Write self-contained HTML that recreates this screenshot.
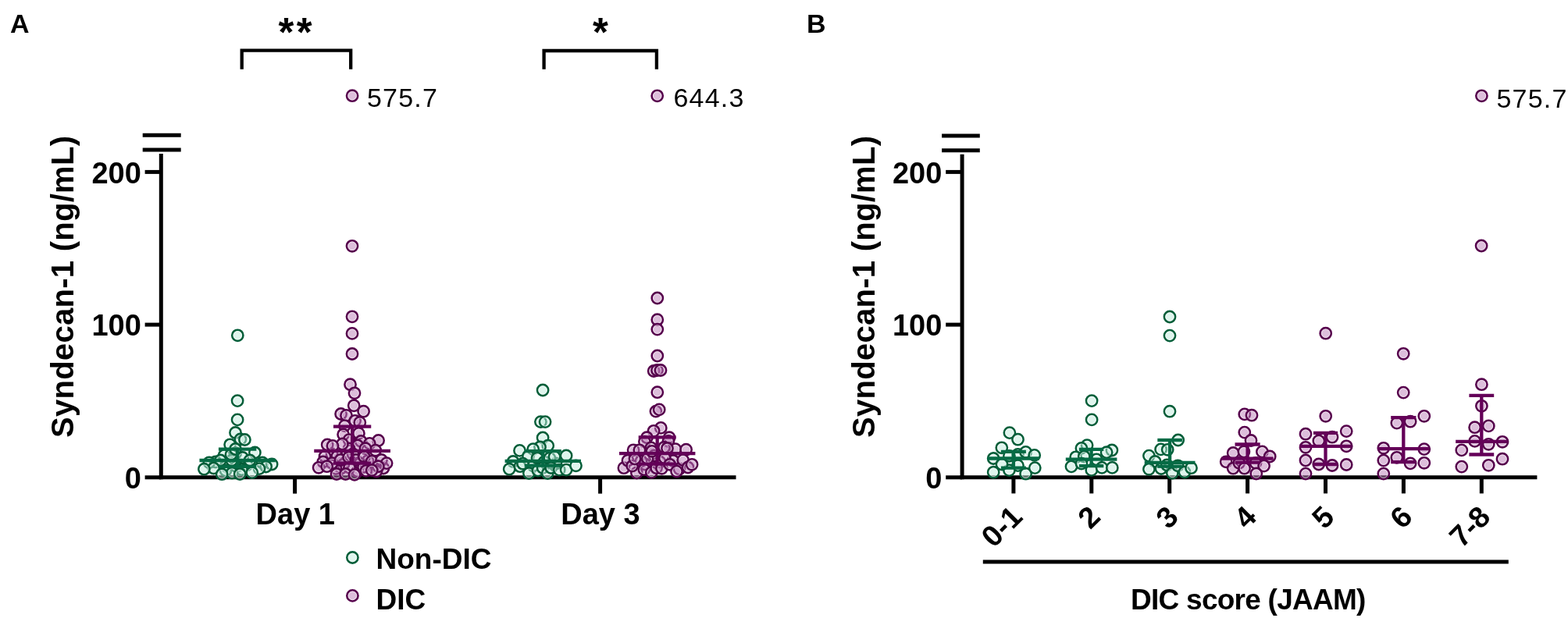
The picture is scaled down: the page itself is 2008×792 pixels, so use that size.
<!DOCTYPE html>
<html><head><meta charset="utf-8"><title>Syndecan-1</title>
<style>html,body{margin:0;padding:0;background:#fff;}svg{display:block;}</style></head>
<body><svg width="2008" height="792" viewBox="0 0 2008 792">
<rect width="2008" height="792" fill="#fff"/>
<g>
<line x1="206.3" y1="197" x2="206.3" y2="614.3" stroke="#000" stroke-width="5"/>
<line x1="182.7" y1="173.3" x2="231.7" y2="173.3" stroke="#000" stroke-width="5"/>
<line x1="182.7" y1="192.0" x2="231.7" y2="192.0" stroke="#000" stroke-width="5"/>
<line x1="203.8" y1="611.8" x2="942.5" y2="611.8" stroke="#000" stroke-width="5"/>
<line x1="185.6" y1="611.8" x2="206.3" y2="611.8" stroke="#000" stroke-width="5"/>
<line x1="185.6" y1="416.0999999999999" x2="206.3" y2="416.0999999999999" stroke="#000" stroke-width="5"/>
<line x1="185.6" y1="220.39999999999992" x2="206.3" y2="220.39999999999992" stroke="#000" stroke-width="5"/>
<line x1="377.6" y1="611.8" x2="377.6" y2="632.6" stroke="#000" stroke-width="5"/>
<line x1="768.6" y1="611.8" x2="768.6" y2="632.6" stroke="#000" stroke-width="5"/>
<line x1="1232.1" y1="197.7" x2="1232.1" y2="614.3" stroke="#000" stroke-width="5"/>
<line x1="1206.1" y1="174.0" x2="1254.8" y2="174.0" stroke="#000" stroke-width="5"/>
<line x1="1206.1" y1="192.7" x2="1254.8" y2="192.7" stroke="#000" stroke-width="5"/>
<line x1="1229.6" y1="611.8" x2="1968.4" y2="611.8" stroke="#000" stroke-width="5"/>
<line x1="1211.2" y1="611.8" x2="1232.1" y2="611.8" stroke="#000" stroke-width="5"/>
<line x1="1211.2" y1="416.0999999999999" x2="1232.1" y2="416.0999999999999" stroke="#000" stroke-width="5"/>
<line x1="1211.2" y1="220.39999999999992" x2="1232.1" y2="220.39999999999992" stroke="#000" stroke-width="5"/>
<line x1="1297.9" y1="611.8" x2="1297.9" y2="632.4" stroke="#000" stroke-width="5"/>
<line x1="1397.8000000000002" y1="611.8" x2="1397.8000000000002" y2="632.4" stroke="#000" stroke-width="5"/>
<line x1="1497.7" y1="611.8" x2="1497.7" y2="632.4" stroke="#000" stroke-width="5"/>
<line x1="1597.6000000000001" y1="611.8" x2="1597.6000000000001" y2="632.4" stroke="#000" stroke-width="5"/>
<line x1="1697.5" y1="611.8" x2="1697.5" y2="632.4" stroke="#000" stroke-width="5"/>
<line x1="1797.4" y1="611.8" x2="1797.4" y2="632.4" stroke="#000" stroke-width="5"/>
<line x1="1897.3000000000002" y1="611.8" x2="1897.3000000000002" y2="632.4" stroke="#000" stroke-width="5"/>
<line x1="1258.8" y1="720.1" x2="1931.8" y2="720.1" stroke="#000" stroke-width="5"/>
<polyline points="309.7,88.8 309.7,64.7 449.2,64.7 449.2,88.8" fill="none" stroke="#000" stroke-width="4.3"/>
<polyline points="696.6,88.8 696.6,65 840.9,65 840.9,88.8" fill="none" stroke="#000" stroke-width="4.3"/>
<circle cx="304.3" cy="429.8" r="7.1" fill="#c0ecdc" fill-opacity="0.5" stroke="#045e39" stroke-width="2.6"/><circle cx="304.3" cy="429.8" r="5.30" fill="none" stroke="#fff" stroke-opacity="0.6" stroke-width="1.0"/>
<circle cx="304.1" cy="513.6" r="7.1" fill="#c0ecdc" fill-opacity="0.5" stroke="#045e39" stroke-width="2.6"/><circle cx="304.1" cy="513.6" r="5.30" fill="none" stroke="#fff" stroke-opacity="0.6" stroke-width="1.0"/>
<circle cx="304.1" cy="537.9" r="7.1" fill="#c0ecdc" fill-opacity="0.5" stroke="#045e39" stroke-width="2.6"/><circle cx="304.1" cy="537.9" r="5.30" fill="none" stroke="#fff" stroke-opacity="0.6" stroke-width="1.0"/>
<circle cx="301.5" cy="554.5" r="7.1" fill="#c0ecdc" fill-opacity="0.5" stroke="#045e39" stroke-width="2.6"/><circle cx="301.5" cy="554.5" r="5.30" fill="none" stroke="#fff" stroke-opacity="0.6" stroke-width="1.0"/>
<circle cx="307.9" cy="563.0" r="7.1" fill="#c0ecdc" fill-opacity="0.5" stroke="#045e39" stroke-width="2.6"/><circle cx="307.9" cy="563.0" r="5.30" fill="none" stroke="#fff" stroke-opacity="0.6" stroke-width="1.0"/>
<circle cx="313.4" cy="563.5" r="7.1" fill="#c0ecdc" fill-opacity="0.5" stroke="#045e39" stroke-width="2.6"/><circle cx="313.4" cy="563.5" r="5.30" fill="none" stroke="#fff" stroke-opacity="0.6" stroke-width="1.0"/>
<circle cx="294.6" cy="569.8" r="7.1" fill="#c0ecdc" fill-opacity="0.5" stroke="#045e39" stroke-width="2.6"/><circle cx="294.6" cy="569.8" r="5.30" fill="none" stroke="#fff" stroke-opacity="0.6" stroke-width="1.0"/>
<circle cx="301.8" cy="580.7" r="7.1" fill="#c0ecdc" fill-opacity="0.5" stroke="#045e39" stroke-width="2.6"/><circle cx="301.8" cy="580.7" r="5.30" fill="none" stroke="#fff" stroke-opacity="0.6" stroke-width="1.0"/>
<circle cx="290.0" cy="597.5" r="7.1" fill="#c0ecdc" fill-opacity="0.5" stroke="#045e39" stroke-width="2.6"/><circle cx="290.0" cy="597.5" r="5.30" fill="none" stroke="#fff" stroke-opacity="0.6" stroke-width="1.0"/>
<circle cx="287.1" cy="583.5" r="7.1" fill="#c0ecdc" fill-opacity="0.5" stroke="#045e39" stroke-width="2.6"/><circle cx="287.1" cy="583.5" r="5.30" fill="none" stroke="#fff" stroke-opacity="0.6" stroke-width="1.0"/>
<circle cx="316.0" cy="596.0" r="7.1" fill="#c0ecdc" fill-opacity="0.5" stroke="#045e39" stroke-width="2.6"/><circle cx="316.0" cy="596.0" r="5.30" fill="none" stroke="#fff" stroke-opacity="0.6" stroke-width="1.0"/>
<circle cx="326.4" cy="580.0" r="7.1" fill="#c0ecdc" fill-opacity="0.5" stroke="#045e39" stroke-width="2.6"/><circle cx="326.4" cy="580.0" r="5.30" fill="none" stroke="#fff" stroke-opacity="0.6" stroke-width="1.0"/>
<circle cx="303.0" cy="598.0" r="7.1" fill="#c0ecdc" fill-opacity="0.5" stroke="#045e39" stroke-width="2.6"/><circle cx="303.0" cy="598.0" r="5.30" fill="none" stroke="#fff" stroke-opacity="0.6" stroke-width="1.0"/>
<circle cx="310.7" cy="586.5" r="7.1" fill="#c0ecdc" fill-opacity="0.5" stroke="#045e39" stroke-width="2.6"/><circle cx="310.7" cy="586.5" r="5.30" fill="none" stroke="#fff" stroke-opacity="0.6" stroke-width="1.0"/>
<circle cx="276.0" cy="592.0" r="7.1" fill="#c0ecdc" fill-opacity="0.5" stroke="#045e39" stroke-width="2.6"/><circle cx="276.0" cy="592.0" r="5.30" fill="none" stroke="#fff" stroke-opacity="0.6" stroke-width="1.0"/>
<circle cx="282.3" cy="590.0" r="7.1" fill="#c0ecdc" fill-opacity="0.5" stroke="#045e39" stroke-width="2.6"/><circle cx="282.3" cy="590.0" r="5.30" fill="none" stroke="#fff" stroke-opacity="0.6" stroke-width="1.0"/>
<circle cx="320.0" cy="590.0" r="7.1" fill="#c0ecdc" fill-opacity="0.5" stroke="#045e39" stroke-width="2.6"/><circle cx="320.0" cy="590.0" r="5.30" fill="none" stroke="#fff" stroke-opacity="0.6" stroke-width="1.0"/>
<circle cx="296.8" cy="590.0" r="7.1" fill="#c0ecdc" fill-opacity="0.5" stroke="#045e39" stroke-width="2.6"/><circle cx="296.8" cy="590.0" r="5.30" fill="none" stroke="#fff" stroke-opacity="0.6" stroke-width="1.0"/>
<circle cx="289.0" cy="603.0" r="7.1" fill="#c0ecdc" fill-opacity="0.5" stroke="#045e39" stroke-width="2.6"/><circle cx="289.0" cy="603.0" r="5.30" fill="none" stroke="#fff" stroke-opacity="0.6" stroke-width="1.0"/>
<circle cx="267.9" cy="592.8" r="7.1" fill="#c0ecdc" fill-opacity="0.5" stroke="#045e39" stroke-width="2.6"/><circle cx="267.9" cy="592.8" r="5.30" fill="none" stroke="#fff" stroke-opacity="0.6" stroke-width="1.0"/>
<circle cx="336.0" cy="593.0" r="7.1" fill="#c0ecdc" fill-opacity="0.5" stroke="#045e39" stroke-width="2.6"/><circle cx="336.0" cy="593.0" r="5.30" fill="none" stroke="#fff" stroke-opacity="0.6" stroke-width="1.0"/>
<circle cx="348.1" cy="595.0" r="7.1" fill="#c0ecdc" fill-opacity="0.5" stroke="#045e39" stroke-width="2.6"/><circle cx="348.1" cy="595.0" r="5.30" fill="none" stroke="#fff" stroke-opacity="0.6" stroke-width="1.0"/>
<circle cx="296.0" cy="582.5" r="7.1" fill="#c0ecdc" fill-opacity="0.5" stroke="#045e39" stroke-width="2.6"/><circle cx="296.0" cy="582.5" r="5.30" fill="none" stroke="#fff" stroke-opacity="0.6" stroke-width="1.0"/>
<circle cx="340.6" cy="598.0" r="7.1" fill="#c0ecdc" fill-opacity="0.5" stroke="#045e39" stroke-width="2.6"/><circle cx="340.6" cy="598.0" r="5.30" fill="none" stroke="#fff" stroke-opacity="0.6" stroke-width="1.0"/>
<circle cx="273.6" cy="600.0" r="7.1" fill="#c0ecdc" fill-opacity="0.5" stroke="#045e39" stroke-width="2.6"/><circle cx="273.6" cy="600.0" r="5.30" fill="none" stroke="#fff" stroke-opacity="0.6" stroke-width="1.0"/>
<circle cx="332.0" cy="600.6" r="7.1" fill="#c0ecdc" fill-opacity="0.5" stroke="#045e39" stroke-width="2.6"/><circle cx="332.0" cy="600.6" r="5.30" fill="none" stroke="#fff" stroke-opacity="0.6" stroke-width="1.0"/>
<circle cx="261.4" cy="601.2" r="7.1" fill="#c0ecdc" fill-opacity="0.5" stroke="#045e39" stroke-width="2.6"/><circle cx="261.4" cy="601.2" r="5.30" fill="none" stroke="#fff" stroke-opacity="0.6" stroke-width="1.0"/>
<circle cx="309.5" cy="601.6" r="7.1" fill="#c0ecdc" fill-opacity="0.5" stroke="#045e39" stroke-width="2.6"/><circle cx="309.5" cy="601.6" r="5.30" fill="none" stroke="#fff" stroke-opacity="0.6" stroke-width="1.0"/>
<circle cx="322.8" cy="605.6" r="7.1" fill="#c0ecdc" fill-opacity="0.5" stroke="#045e39" stroke-width="2.6"/><circle cx="322.8" cy="605.6" r="5.30" fill="none" stroke="#fff" stroke-opacity="0.6" stroke-width="1.0"/>
<circle cx="297.1" cy="606.2" r="7.1" fill="#c0ecdc" fill-opacity="0.5" stroke="#045e39" stroke-width="2.6"/><circle cx="297.1" cy="606.2" r="5.30" fill="none" stroke="#fff" stroke-opacity="0.6" stroke-width="1.0"/>
<circle cx="307.2" cy="607.5" r="7.1" fill="#c0ecdc" fill-opacity="0.5" stroke="#045e39" stroke-width="2.6"/><circle cx="307.2" cy="607.5" r="5.30" fill="none" stroke="#fff" stroke-opacity="0.6" stroke-width="1.0"/>
<circle cx="284.2" cy="607.7" r="7.1" fill="#c0ecdc" fill-opacity="0.5" stroke="#045e39" stroke-width="2.6"/><circle cx="284.2" cy="607.7" r="5.30" fill="none" stroke="#fff" stroke-opacity="0.6" stroke-width="1.0"/>
<circle cx="301.5" cy="575.5" r="7.1" fill="#c0ecdc" fill-opacity="0.5" stroke="#045e39" stroke-width="2.6"/><circle cx="301.5" cy="575.5" r="5.30" fill="none" stroke="#fff" stroke-opacity="0.6" stroke-width="1.0"/>
<line x1="255.45000000000002" y1="590" x2="352.75" y2="590" stroke="#066b45" stroke-width="4.3"/>
<line x1="279.90000000000003" y1="597.8" x2="328.3" y2="597.8" stroke="#066b45" stroke-width="4.3"/>
<line x1="279.90000000000003" y1="575.7" x2="328.3" y2="575.7" stroke="#066b45" stroke-width="4.3"/>
<line x1="304.1" y1="597.8" x2="304.1" y2="575.7" stroke="#066b45" stroke-width="4.3"/>
<circle cx="451.1" cy="122.7" r="7.1" fill="#bc7eb8" fill-opacity="0.5" stroke="#56004c" stroke-width="2.6"/><circle cx="451.1" cy="122.7" r="5.30" fill="none" stroke="#fff" stroke-opacity="0.6" stroke-width="1.0"/>
<circle cx="451.0" cy="315.3" r="7.1" fill="#bc7eb8" fill-opacity="0.5" stroke="#56004c" stroke-width="2.6"/><circle cx="451.0" cy="315.3" r="5.30" fill="none" stroke="#fff" stroke-opacity="0.6" stroke-width="1.0"/>
<circle cx="451.0" cy="405.8" r="7.1" fill="#bc7eb8" fill-opacity="0.5" stroke="#56004c" stroke-width="2.6"/><circle cx="451.0" cy="405.8" r="5.30" fill="none" stroke="#fff" stroke-opacity="0.6" stroke-width="1.0"/>
<circle cx="451.0" cy="427.4" r="7.1" fill="#bc7eb8" fill-opacity="0.5" stroke="#56004c" stroke-width="2.6"/><circle cx="451.0" cy="427.4" r="5.30" fill="none" stroke="#fff" stroke-opacity="0.6" stroke-width="1.0"/>
<circle cx="451.0" cy="453.5" r="7.1" fill="#bc7eb8" fill-opacity="0.5" stroke="#56004c" stroke-width="2.6"/><circle cx="451.0" cy="453.5" r="5.30" fill="none" stroke="#fff" stroke-opacity="0.6" stroke-width="1.0"/>
<circle cx="448.5" cy="492.7" r="7.1" fill="#bc7eb8" fill-opacity="0.5" stroke="#56004c" stroke-width="2.6"/><circle cx="448.5" cy="492.7" r="5.30" fill="none" stroke="#fff" stroke-opacity="0.6" stroke-width="1.0"/>
<circle cx="454.0" cy="503.8" r="7.1" fill="#bc7eb8" fill-opacity="0.5" stroke="#56004c" stroke-width="2.6"/><circle cx="454.0" cy="503.8" r="5.30" fill="none" stroke="#fff" stroke-opacity="0.6" stroke-width="1.0"/>
<circle cx="453.2" cy="519.8" r="7.1" fill="#bc7eb8" fill-opacity="0.5" stroke="#56004c" stroke-width="2.6"/><circle cx="453.2" cy="519.8" r="5.30" fill="none" stroke="#fff" stroke-opacity="0.6" stroke-width="1.0"/>
<circle cx="465.6" cy="527.2" r="7.1" fill="#bc7eb8" fill-opacity="0.5" stroke="#56004c" stroke-width="2.6"/><circle cx="465.6" cy="527.2" r="5.30" fill="none" stroke="#fff" stroke-opacity="0.6" stroke-width="1.0"/>
<circle cx="436.6" cy="530.5" r="7.1" fill="#bc7eb8" fill-opacity="0.5" stroke="#56004c" stroke-width="2.6"/><circle cx="436.6" cy="530.5" r="5.30" fill="none" stroke="#fff" stroke-opacity="0.6" stroke-width="1.0"/>
<circle cx="443.5" cy="532.4" r="7.1" fill="#bc7eb8" fill-opacity="0.5" stroke="#56004c" stroke-width="2.6"/><circle cx="443.5" cy="532.4" r="5.30" fill="none" stroke="#fff" stroke-opacity="0.6" stroke-width="1.0"/>
<circle cx="454.6" cy="539.3" r="7.1" fill="#bc7eb8" fill-opacity="0.5" stroke="#56004c" stroke-width="2.6"/><circle cx="454.6" cy="539.3" r="5.30" fill="none" stroke="#fff" stroke-opacity="0.6" stroke-width="1.0"/>
<circle cx="460.8" cy="541.4" r="7.1" fill="#bc7eb8" fill-opacity="0.5" stroke="#56004c" stroke-width="2.6"/><circle cx="460.8" cy="541.4" r="5.30" fill="none" stroke="#fff" stroke-opacity="0.6" stroke-width="1.0"/>
<circle cx="441.4" cy="545.6" r="7.1" fill="#bc7eb8" fill-opacity="0.5" stroke="#56004c" stroke-width="2.6"/><circle cx="441.4" cy="545.6" r="5.30" fill="none" stroke="#fff" stroke-opacity="0.6" stroke-width="1.0"/>
<circle cx="459.4" cy="555.4" r="7.1" fill="#bc7eb8" fill-opacity="0.5" stroke="#56004c" stroke-width="2.6"/><circle cx="459.4" cy="555.4" r="5.30" fill="none" stroke="#fff" stroke-opacity="0.6" stroke-width="1.0"/>
<circle cx="439.6" cy="556.8" r="7.1" fill="#bc7eb8" fill-opacity="0.5" stroke="#56004c" stroke-width="2.6"/><circle cx="439.6" cy="556.8" r="5.30" fill="none" stroke="#fff" stroke-opacity="0.6" stroke-width="1.0"/>
<circle cx="447.0" cy="563.6" r="7.1" fill="#bc7eb8" fill-opacity="0.5" stroke="#56004c" stroke-width="2.6"/><circle cx="447.0" cy="563.6" r="5.30" fill="none" stroke="#fff" stroke-opacity="0.6" stroke-width="1.0"/>
<circle cx="462.2" cy="565.5" r="7.1" fill="#bc7eb8" fill-opacity="0.5" stroke="#56004c" stroke-width="2.6"/><circle cx="462.2" cy="565.5" r="5.30" fill="none" stroke="#fff" stroke-opacity="0.6" stroke-width="1.0"/>
<circle cx="484.6" cy="564.5" r="7.1" fill="#bc7eb8" fill-opacity="0.5" stroke="#56004c" stroke-width="2.6"/><circle cx="484.6" cy="564.5" r="5.30" fill="none" stroke="#fff" stroke-opacity="0.6" stroke-width="1.0"/>
<circle cx="473.3" cy="568.4" r="7.1" fill="#bc7eb8" fill-opacity="0.5" stroke="#56004c" stroke-width="2.6"/><circle cx="473.3" cy="568.4" r="5.30" fill="none" stroke="#fff" stroke-opacity="0.6" stroke-width="1.0"/>
<circle cx="437.0" cy="600.0" r="7.1" fill="#bc7eb8" fill-opacity="0.5" stroke="#56004c" stroke-width="2.6"/><circle cx="437.0" cy="600.0" r="5.30" fill="none" stroke="#fff" stroke-opacity="0.6" stroke-width="1.0"/>
<circle cx="419.2" cy="570.0" r="7.1" fill="#bc7eb8" fill-opacity="0.5" stroke="#56004c" stroke-width="2.6"/><circle cx="419.2" cy="570.0" r="5.30" fill="none" stroke="#fff" stroke-opacity="0.6" stroke-width="1.0"/>
<circle cx="458.0" cy="604.0" r="7.1" fill="#bc7eb8" fill-opacity="0.5" stroke="#56004c" stroke-width="2.6"/><circle cx="458.0" cy="604.0" r="5.30" fill="none" stroke="#fff" stroke-opacity="0.6" stroke-width="1.0"/>
<circle cx="480.8" cy="577.1" r="7.1" fill="#bc7eb8" fill-opacity="0.5" stroke="#56004c" stroke-width="2.6"/><circle cx="480.8" cy="577.1" r="5.30" fill="none" stroke="#fff" stroke-opacity="0.6" stroke-width="1.0"/>
<circle cx="471.0" cy="590.5" r="7.1" fill="#bc7eb8" fill-opacity="0.5" stroke="#56004c" stroke-width="2.6"/><circle cx="471.0" cy="590.5" r="5.30" fill="none" stroke="#fff" stroke-opacity="0.6" stroke-width="1.0"/>
<circle cx="458.0" cy="571.0" r="7.1" fill="#bc7eb8" fill-opacity="0.5" stroke="#56004c" stroke-width="2.6"/><circle cx="458.0" cy="571.0" r="5.30" fill="none" stroke="#fff" stroke-opacity="0.6" stroke-width="1.0"/>
<circle cx="425.0" cy="582.0" r="7.1" fill="#bc7eb8" fill-opacity="0.5" stroke="#56004c" stroke-width="2.6"/><circle cx="425.0" cy="582.0" r="5.30" fill="none" stroke="#fff" stroke-opacity="0.6" stroke-width="1.0"/>
<circle cx="447.0" cy="575.0" r="7.1" fill="#bc7eb8" fill-opacity="0.5" stroke="#56004c" stroke-width="2.6"/><circle cx="447.0" cy="575.0" r="5.30" fill="none" stroke="#fff" stroke-opacity="0.6" stroke-width="1.0"/>
<circle cx="452.0" cy="582.0" r="7.1" fill="#bc7eb8" fill-opacity="0.5" stroke="#56004c" stroke-width="2.6"/><circle cx="452.0" cy="582.0" r="5.30" fill="none" stroke="#fff" stroke-opacity="0.6" stroke-width="1.0"/>
<circle cx="431.8" cy="584.8" r="7.1" fill="#bc7eb8" fill-opacity="0.5" stroke="#56004c" stroke-width="2.6"/><circle cx="431.8" cy="584.8" r="5.30" fill="none" stroke="#fff" stroke-opacity="0.6" stroke-width="1.0"/>
<circle cx="440.0" cy="595.0" r="7.1" fill="#bc7eb8" fill-opacity="0.5" stroke="#56004c" stroke-width="2.6"/><circle cx="440.0" cy="595.0" r="5.30" fill="none" stroke="#fff" stroke-opacity="0.6" stroke-width="1.0"/>
<circle cx="438.4" cy="569.0" r="7.1" fill="#bc7eb8" fill-opacity="0.5" stroke="#56004c" stroke-width="2.6"/><circle cx="438.4" cy="569.0" r="5.30" fill="none" stroke="#fff" stroke-opacity="0.6" stroke-width="1.0"/>
<circle cx="461.0" cy="594.0" r="7.1" fill="#bc7eb8" fill-opacity="0.5" stroke="#56004c" stroke-width="2.6"/><circle cx="461.0" cy="594.0" r="5.30" fill="none" stroke="#fff" stroke-opacity="0.6" stroke-width="1.0"/>
<circle cx="426.0" cy="571.4" r="7.1" fill="#bc7eb8" fill-opacity="0.5" stroke="#56004c" stroke-width="2.6"/><circle cx="426.0" cy="571.4" r="5.30" fill="none" stroke="#fff" stroke-opacity="0.6" stroke-width="1.0"/>
<circle cx="491.0" cy="600.0" r="7.1" fill="#bc7eb8" fill-opacity="0.5" stroke="#56004c" stroke-width="2.6"/><circle cx="491.0" cy="600.0" r="5.30" fill="none" stroke="#fff" stroke-opacity="0.6" stroke-width="1.0"/>
<circle cx="468.0" cy="574.7" r="7.1" fill="#bc7eb8" fill-opacity="0.5" stroke="#56004c" stroke-width="2.6"/><circle cx="468.0" cy="574.7" r="5.30" fill="none" stroke="#fff" stroke-opacity="0.6" stroke-width="1.0"/>
<circle cx="416.0" cy="585.0" r="7.1" fill="#bc7eb8" fill-opacity="0.5" stroke="#56004c" stroke-width="2.6"/><circle cx="416.0" cy="585.0" r="5.30" fill="none" stroke="#fff" stroke-opacity="0.6" stroke-width="1.0"/>
<circle cx="413.8" cy="592.0" r="7.1" fill="#bc7eb8" fill-opacity="0.5" stroke="#56004c" stroke-width="2.6"/><circle cx="413.8" cy="592.0" r="5.30" fill="none" stroke="#fff" stroke-opacity="0.6" stroke-width="1.0"/>
<circle cx="430.0" cy="600.5" r="7.1" fill="#bc7eb8" fill-opacity="0.5" stroke="#56004c" stroke-width="2.6"/><circle cx="430.0" cy="600.5" r="5.30" fill="none" stroke="#fff" stroke-opacity="0.6" stroke-width="1.0"/>
<circle cx="408.1" cy="599.3" r="7.1" fill="#bc7eb8" fill-opacity="0.5" stroke="#56004c" stroke-width="2.6"/><circle cx="408.1" cy="599.3" r="5.30" fill="none" stroke="#fff" stroke-opacity="0.6" stroke-width="1.0"/>
<circle cx="482.0" cy="604.0" r="7.1" fill="#bc7eb8" fill-opacity="0.5" stroke="#56004c" stroke-width="2.6"/><circle cx="482.0" cy="604.0" r="5.30" fill="none" stroke="#fff" stroke-opacity="0.6" stroke-width="1.0"/>
<circle cx="425.3" cy="593.6" r="7.1" fill="#bc7eb8" fill-opacity="0.5" stroke="#56004c" stroke-width="2.6"/><circle cx="425.3" cy="593.6" r="5.30" fill="none" stroke="#fff" stroke-opacity="0.6" stroke-width="1.0"/>
<circle cx="418.7" cy="597.7" r="7.1" fill="#bc7eb8" fill-opacity="0.5" stroke="#56004c" stroke-width="2.6"/><circle cx="418.7" cy="597.7" r="5.30" fill="none" stroke="#fff" stroke-opacity="0.6" stroke-width="1.0"/>
<circle cx="436.0" cy="589.5" r="7.1" fill="#bc7eb8" fill-opacity="0.5" stroke="#56004c" stroke-width="2.6"/><circle cx="436.0" cy="589.5" r="5.30" fill="none" stroke="#fff" stroke-opacity="0.6" stroke-width="1.0"/>
<circle cx="446.6" cy="586.2" r="7.1" fill="#bc7eb8" fill-opacity="0.5" stroke="#56004c" stroke-width="2.6"/><circle cx="446.6" cy="586.2" r="5.30" fill="none" stroke="#fff" stroke-opacity="0.6" stroke-width="1.0"/>
<circle cx="455.7" cy="589.5" r="7.1" fill="#bc7eb8" fill-opacity="0.5" stroke="#56004c" stroke-width="2.6"/><circle cx="455.7" cy="589.5" r="5.30" fill="none" stroke="#fff" stroke-opacity="0.6" stroke-width="1.0"/>
<circle cx="466.4" cy="585.4" r="7.1" fill="#bc7eb8" fill-opacity="0.5" stroke="#56004c" stroke-width="2.6"/><circle cx="466.4" cy="585.4" r="5.30" fill="none" stroke="#fff" stroke-opacity="0.6" stroke-width="1.0"/>
<circle cx="476.2" cy="591.1" r="7.1" fill="#bc7eb8" fill-opacity="0.5" stroke="#56004c" stroke-width="2.6"/><circle cx="476.2" cy="591.1" r="5.30" fill="none" stroke="#fff" stroke-opacity="0.6" stroke-width="1.0"/>
<circle cx="488.5" cy="589.5" r="7.1" fill="#bc7eb8" fill-opacity="0.5" stroke="#56004c" stroke-width="2.6"/><circle cx="488.5" cy="589.5" r="5.30" fill="none" stroke="#fff" stroke-opacity="0.6" stroke-width="1.0"/>
<circle cx="495.1" cy="593.6" r="7.1" fill="#bc7eb8" fill-opacity="0.5" stroke="#56004c" stroke-width="2.6"/><circle cx="495.1" cy="593.6" r="5.30" fill="none" stroke="#fff" stroke-opacity="0.6" stroke-width="1.0"/>
<circle cx="484.4" cy="597.7" r="7.1" fill="#bc7eb8" fill-opacity="0.5" stroke="#56004c" stroke-width="2.6"/><circle cx="484.4" cy="597.7" r="5.30" fill="none" stroke="#fff" stroke-opacity="0.6" stroke-width="1.0"/>
<circle cx="465.5" cy="598.5" r="7.1" fill="#bc7eb8" fill-opacity="0.5" stroke="#56004c" stroke-width="2.6"/><circle cx="465.5" cy="598.5" r="5.30" fill="none" stroke="#fff" stroke-opacity="0.6" stroke-width="1.0"/>
<circle cx="447.5" cy="599.3" r="7.1" fill="#bc7eb8" fill-opacity="0.5" stroke="#56004c" stroke-width="2.6"/><circle cx="447.5" cy="599.3" r="5.30" fill="none" stroke="#fff" stroke-opacity="0.6" stroke-width="1.0"/>
<circle cx="431.0" cy="607.5" r="7.1" fill="#bc7eb8" fill-opacity="0.5" stroke="#56004c" stroke-width="2.6"/><circle cx="431.0" cy="607.5" r="5.30" fill="none" stroke="#fff" stroke-opacity="0.6" stroke-width="1.0"/>
<circle cx="442.5" cy="607.5" r="7.1" fill="#bc7eb8" fill-opacity="0.5" stroke="#56004c" stroke-width="2.6"/><circle cx="442.5" cy="607.5" r="5.30" fill="none" stroke="#fff" stroke-opacity="0.6" stroke-width="1.0"/>
<circle cx="454.0" cy="608.4" r="7.1" fill="#bc7eb8" fill-opacity="0.5" stroke="#56004c" stroke-width="2.6"/><circle cx="454.0" cy="608.4" r="5.30" fill="none" stroke="#fff" stroke-opacity="0.6" stroke-width="1.0"/>
<circle cx="468.8" cy="603.4" r="7.1" fill="#bc7eb8" fill-opacity="0.5" stroke="#56004c" stroke-width="2.6"/><circle cx="468.8" cy="603.4" r="5.30" fill="none" stroke="#fff" stroke-opacity="0.6" stroke-width="1.0"/>
<circle cx="476.2" cy="602.6" r="7.1" fill="#bc7eb8" fill-opacity="0.5" stroke="#56004c" stroke-width="2.6"/><circle cx="476.2" cy="602.6" r="5.30" fill="none" stroke="#fff" stroke-opacity="0.6" stroke-width="1.0"/>
<line x1="402.25" y1="577.8" x2="499.95000000000005" y2="577.8" stroke="#640058" stroke-width="4.3"/>
<line x1="426.95000000000005" y1="593.6" x2="475.25" y2="593.6" stroke="#640058" stroke-width="4.3"/>
<line x1="426.95000000000005" y1="546.6" x2="475.25" y2="546.6" stroke="#640058" stroke-width="4.3"/>
<line x1="451.1" y1="593.6" x2="451.1" y2="546.6" stroke="#640058" stroke-width="4.3"/>
<circle cx="695.1" cy="500.0" r="7.1" fill="#c0ecdc" fill-opacity="0.5" stroke="#045e39" stroke-width="2.6"/><circle cx="695.1" cy="500.0" r="5.30" fill="none" stroke="#fff" stroke-opacity="0.6" stroke-width="1.0"/>
<circle cx="692.4" cy="540.6" r="7.1" fill="#c0ecdc" fill-opacity="0.5" stroke="#045e39" stroke-width="2.6"/><circle cx="692.4" cy="540.6" r="5.30" fill="none" stroke="#fff" stroke-opacity="0.6" stroke-width="1.0"/>
<circle cx="698.1" cy="540.6" r="7.1" fill="#c0ecdc" fill-opacity="0.5" stroke="#045e39" stroke-width="2.6"/><circle cx="698.1" cy="540.6" r="5.30" fill="none" stroke="#fff" stroke-opacity="0.6" stroke-width="1.0"/>
<circle cx="695.1" cy="561.0" r="7.1" fill="#c0ecdc" fill-opacity="0.5" stroke="#045e39" stroke-width="2.6"/><circle cx="695.1" cy="561.0" r="5.30" fill="none" stroke="#fff" stroke-opacity="0.6" stroke-width="1.0"/>
<circle cx="701.7" cy="571.2" r="7.1" fill="#c0ecdc" fill-opacity="0.5" stroke="#045e39" stroke-width="2.6"/><circle cx="701.7" cy="571.2" r="5.30" fill="none" stroke="#fff" stroke-opacity="0.6" stroke-width="1.0"/>
<circle cx="691.5" cy="573.0" r="7.1" fill="#c0ecdc" fill-opacity="0.5" stroke="#045e39" stroke-width="2.6"/><circle cx="691.5" cy="573.0" r="5.30" fill="none" stroke="#fff" stroke-opacity="0.6" stroke-width="1.0"/>
<circle cx="682.7" cy="575.6" r="7.1" fill="#c0ecdc" fill-opacity="0.5" stroke="#045e39" stroke-width="2.6"/><circle cx="682.7" cy="575.6" r="5.30" fill="none" stroke="#fff" stroke-opacity="0.6" stroke-width="1.0"/>
<circle cx="665.5" cy="577.4" r="7.1" fill="#c0ecdc" fill-opacity="0.5" stroke="#045e39" stroke-width="2.6"/><circle cx="665.5" cy="577.4" r="5.30" fill="none" stroke="#fff" stroke-opacity="0.6" stroke-width="1.0"/>
<circle cx="725.1" cy="584.0" r="7.1" fill="#c0ecdc" fill-opacity="0.5" stroke="#045e39" stroke-width="2.6"/><circle cx="725.1" cy="584.0" r="5.30" fill="none" stroke="#fff" stroke-opacity="0.6" stroke-width="1.0"/>
<circle cx="657.1" cy="591.5" r="7.1" fill="#c0ecdc" fill-opacity="0.5" stroke="#045e39" stroke-width="2.6"/><circle cx="657.1" cy="591.5" r="5.30" fill="none" stroke="#fff" stroke-opacity="0.6" stroke-width="1.0"/>
<circle cx="652.2" cy="601.2" r="7.1" fill="#c0ecdc" fill-opacity="0.5" stroke="#045e39" stroke-width="2.6"/><circle cx="652.2" cy="601.2" r="5.30" fill="none" stroke="#fff" stroke-opacity="0.6" stroke-width="1.0"/>
<circle cx="665.9" cy="597.7" r="7.1" fill="#c0ecdc" fill-opacity="0.5" stroke="#045e39" stroke-width="2.6"/><circle cx="665.9" cy="597.7" r="5.30" fill="none" stroke="#fff" stroke-opacity="0.6" stroke-width="1.0"/>
<circle cx="683.0" cy="597.0" r="7.1" fill="#c0ecdc" fill-opacity="0.5" stroke="#045e39" stroke-width="2.6"/><circle cx="683.0" cy="597.0" r="5.30" fill="none" stroke="#fff" stroke-opacity="0.6" stroke-width="1.0"/>
<circle cx="676.5" cy="584.5" r="7.1" fill="#c0ecdc" fill-opacity="0.5" stroke="#045e39" stroke-width="2.6"/><circle cx="676.5" cy="584.5" r="5.30" fill="none" stroke="#fff" stroke-opacity="0.6" stroke-width="1.0"/>
<circle cx="712.0" cy="594.0" r="7.1" fill="#c0ecdc" fill-opacity="0.5" stroke="#045e39" stroke-width="2.6"/><circle cx="712.0" cy="594.0" r="5.30" fill="none" stroke="#fff" stroke-opacity="0.6" stroke-width="1.0"/>
<circle cx="688.0" cy="587.1" r="7.1" fill="#c0ecdc" fill-opacity="0.5" stroke="#045e39" stroke-width="2.6"/><circle cx="688.0" cy="587.1" r="5.30" fill="none" stroke="#fff" stroke-opacity="0.6" stroke-width="1.0"/>
<circle cx="697.0" cy="592.0" r="7.1" fill="#c0ecdc" fill-opacity="0.5" stroke="#045e39" stroke-width="2.6"/><circle cx="697.0" cy="592.0" r="5.30" fill="none" stroke="#fff" stroke-opacity="0.6" stroke-width="1.0"/>
<circle cx="703.9" cy="587.1" r="7.1" fill="#c0ecdc" fill-opacity="0.5" stroke="#045e39" stroke-width="2.6"/><circle cx="703.9" cy="587.1" r="5.30" fill="none" stroke="#fff" stroke-opacity="0.6" stroke-width="1.0"/>
<circle cx="710.1" cy="585.3" r="7.1" fill="#c0ecdc" fill-opacity="0.5" stroke="#045e39" stroke-width="2.6"/><circle cx="710.1" cy="585.3" r="5.30" fill="none" stroke="#fff" stroke-opacity="0.6" stroke-width="1.0"/>
<circle cx="677.4" cy="606.5" r="7.1" fill="#c0ecdc" fill-opacity="0.5" stroke="#045e39" stroke-width="2.6"/><circle cx="677.4" cy="606.5" r="5.30" fill="none" stroke="#fff" stroke-opacity="0.6" stroke-width="1.0"/>
<circle cx="688.9" cy="603.0" r="7.1" fill="#c0ecdc" fill-opacity="0.5" stroke="#045e39" stroke-width="2.6"/><circle cx="688.9" cy="603.0" r="5.30" fill="none" stroke="#fff" stroke-opacity="0.6" stroke-width="1.0"/>
<circle cx="695.1" cy="599.5" r="7.1" fill="#c0ecdc" fill-opacity="0.5" stroke="#045e39" stroke-width="2.6"/><circle cx="695.1" cy="599.5" r="5.30" fill="none" stroke="#fff" stroke-opacity="0.6" stroke-width="1.0"/>
<circle cx="701.3" cy="606.5" r="7.1" fill="#c0ecdc" fill-opacity="0.5" stroke="#045e39" stroke-width="2.6"/><circle cx="701.3" cy="606.5" r="5.30" fill="none" stroke="#fff" stroke-opacity="0.6" stroke-width="1.0"/>
<circle cx="705.7" cy="599.5" r="7.1" fill="#c0ecdc" fill-opacity="0.5" stroke="#045e39" stroke-width="2.6"/><circle cx="705.7" cy="599.5" r="5.30" fill="none" stroke="#fff" stroke-opacity="0.6" stroke-width="1.0"/>
<circle cx="716.3" cy="602.1" r="7.1" fill="#c0ecdc" fill-opacity="0.5" stroke="#045e39" stroke-width="2.6"/><circle cx="716.3" cy="602.1" r="5.30" fill="none" stroke="#fff" stroke-opacity="0.6" stroke-width="1.0"/>
<circle cx="725.1" cy="602.1" r="7.1" fill="#c0ecdc" fill-opacity="0.5" stroke="#045e39" stroke-width="2.6"/><circle cx="725.1" cy="602.1" r="5.30" fill="none" stroke="#fff" stroke-opacity="0.6" stroke-width="1.0"/>
<circle cx="737.5" cy="596.8" r="7.1" fill="#c0ecdc" fill-opacity="0.5" stroke="#045e39" stroke-width="2.6"/><circle cx="737.5" cy="596.8" r="5.30" fill="none" stroke="#fff" stroke-opacity="0.6" stroke-width="1.0"/>
<circle cx="669.5" cy="594.2" r="7.1" fill="#c0ecdc" fill-opacity="0.5" stroke="#045e39" stroke-width="2.6"/><circle cx="669.5" cy="594.2" r="5.30" fill="none" stroke="#fff" stroke-opacity="0.6" stroke-width="1.0"/>
<line x1="646.5999999999999" y1="590.8" x2="744.0" y2="590.8" stroke="#066b45" stroke-width="4.3"/>
<line x1="671.8" y1="596.6" x2="718.8" y2="596.6" stroke="#066b45" stroke-width="4.3"/>
<line x1="671.8" y1="578.1" x2="718.8" y2="578.1" stroke="#066b45" stroke-width="4.3"/>
<line x1="695.3" y1="596.6" x2="695.3" y2="578.1" stroke="#066b45" stroke-width="4.3"/>
<circle cx="841.7" cy="122.8" r="7.1" fill="#bc7eb8" fill-opacity="0.5" stroke="#56004c" stroke-width="2.6"/><circle cx="841.7" cy="122.8" r="5.30" fill="none" stroke="#fff" stroke-opacity="0.6" stroke-width="1.0"/>
<circle cx="841.8" cy="382.0" r="7.1" fill="#bc7eb8" fill-opacity="0.5" stroke="#56004c" stroke-width="2.6"/><circle cx="841.8" cy="382.0" r="5.30" fill="none" stroke="#fff" stroke-opacity="0.6" stroke-width="1.0"/>
<circle cx="841.8" cy="409.7" r="7.1" fill="#bc7eb8" fill-opacity="0.5" stroke="#56004c" stroke-width="2.6"/><circle cx="841.8" cy="409.7" r="5.30" fill="none" stroke="#fff" stroke-opacity="0.6" stroke-width="1.0"/>
<circle cx="841.8" cy="422.1" r="7.1" fill="#bc7eb8" fill-opacity="0.5" stroke="#56004c" stroke-width="2.6"/><circle cx="841.8" cy="422.1" r="5.30" fill="none" stroke="#fff" stroke-opacity="0.6" stroke-width="1.0"/>
<circle cx="841.8" cy="456.0" r="7.1" fill="#bc7eb8" fill-opacity="0.5" stroke="#56004c" stroke-width="2.6"/><circle cx="841.8" cy="456.0" r="5.30" fill="none" stroke="#fff" stroke-opacity="0.6" stroke-width="1.0"/>
<circle cx="837.2" cy="475.5" r="7.1" fill="#bc7eb8" fill-opacity="0.5" stroke="#56004c" stroke-width="2.6"/><circle cx="837.2" cy="475.5" r="5.30" fill="none" stroke="#fff" stroke-opacity="0.6" stroke-width="1.0"/>
<circle cx="841.5" cy="474.5" r="7.1" fill="#bc7eb8" fill-opacity="0.5" stroke="#56004c" stroke-width="2.6"/><circle cx="841.5" cy="474.5" r="5.30" fill="none" stroke="#fff" stroke-opacity="0.6" stroke-width="1.0"/>
<circle cx="846.0" cy="474.5" r="7.1" fill="#bc7eb8" fill-opacity="0.5" stroke="#56004c" stroke-width="2.6"/><circle cx="846.0" cy="474.5" r="5.30" fill="none" stroke="#fff" stroke-opacity="0.6" stroke-width="1.0"/>
<circle cx="841.8" cy="502.7" r="7.1" fill="#bc7eb8" fill-opacity="0.5" stroke="#56004c" stroke-width="2.6"/><circle cx="841.8" cy="502.7" r="5.30" fill="none" stroke="#fff" stroke-opacity="0.6" stroke-width="1.0"/>
<circle cx="839.9" cy="527.1" r="7.1" fill="#bc7eb8" fill-opacity="0.5" stroke="#56004c" stroke-width="2.6"/><circle cx="839.9" cy="527.1" r="5.30" fill="none" stroke="#fff" stroke-opacity="0.6" stroke-width="1.0"/>
<circle cx="844.2" cy="524.9" r="7.1" fill="#bc7eb8" fill-opacity="0.5" stroke="#56004c" stroke-width="2.6"/><circle cx="844.2" cy="524.9" r="5.30" fill="none" stroke="#fff" stroke-opacity="0.6" stroke-width="1.0"/>
<circle cx="846.3" cy="548.4" r="7.1" fill="#bc7eb8" fill-opacity="0.5" stroke="#56004c" stroke-width="2.6"/><circle cx="846.3" cy="548.4" r="5.30" fill="none" stroke="#fff" stroke-opacity="0.6" stroke-width="1.0"/>
<circle cx="837.1" cy="552.3" r="7.1" fill="#bc7eb8" fill-opacity="0.5" stroke="#56004c" stroke-width="2.6"/><circle cx="837.1" cy="552.3" r="5.30" fill="none" stroke="#fff" stroke-opacity="0.6" stroke-width="1.0"/>
<circle cx="828.4" cy="560.7" r="7.1" fill="#bc7eb8" fill-opacity="0.5" stroke="#56004c" stroke-width="2.6"/><circle cx="828.4" cy="560.7" r="5.30" fill="none" stroke="#fff" stroke-opacity="0.6" stroke-width="1.0"/>
<circle cx="857.1" cy="560.7" r="7.1" fill="#bc7eb8" fill-opacity="0.5" stroke="#56004c" stroke-width="2.6"/><circle cx="857.1" cy="560.7" r="5.30" fill="none" stroke="#fff" stroke-opacity="0.6" stroke-width="1.0"/>
<circle cx="825.4" cy="566.1" r="7.1" fill="#bc7eb8" fill-opacity="0.5" stroke="#56004c" stroke-width="2.6"/><circle cx="825.4" cy="566.1" r="5.30" fill="none" stroke="#fff" stroke-opacity="0.6" stroke-width="1.0"/>
<circle cx="855.9" cy="565.5" r="7.1" fill="#bc7eb8" fill-opacity="0.5" stroke="#56004c" stroke-width="2.6"/><circle cx="855.9" cy="565.5" r="5.30" fill="none" stroke="#fff" stroke-opacity="0.6" stroke-width="1.0"/>
<circle cx="833.8" cy="573.9" r="7.1" fill="#bc7eb8" fill-opacity="0.5" stroke="#56004c" stroke-width="2.6"/><circle cx="833.8" cy="573.9" r="5.30" fill="none" stroke="#fff" stroke-opacity="0.6" stroke-width="1.0"/>
<circle cx="850.5" cy="573.3" r="7.1" fill="#bc7eb8" fill-opacity="0.5" stroke="#56004c" stroke-width="2.6"/><circle cx="850.5" cy="573.3" r="5.30" fill="none" stroke="#fff" stroke-opacity="0.6" stroke-width="1.0"/>
<circle cx="811.1" cy="576.8" r="7.1" fill="#bc7eb8" fill-opacity="0.5" stroke="#56004c" stroke-width="2.6"/><circle cx="811.1" cy="576.8" r="5.30" fill="none" stroke="#fff" stroke-opacity="0.6" stroke-width="1.0"/>
<circle cx="818.9" cy="576.8" r="7.1" fill="#bc7eb8" fill-opacity="0.5" stroke="#56004c" stroke-width="2.6"/><circle cx="818.9" cy="576.8" r="5.30" fill="none" stroke="#fff" stroke-opacity="0.6" stroke-width="1.0"/>
<circle cx="864.9" cy="575.6" r="7.1" fill="#bc7eb8" fill-opacity="0.5" stroke="#56004c" stroke-width="2.6"/><circle cx="864.9" cy="575.6" r="5.30" fill="none" stroke="#fff" stroke-opacity="0.6" stroke-width="1.0"/>
<circle cx="878.6" cy="576.2" r="7.1" fill="#bc7eb8" fill-opacity="0.5" stroke="#56004c" stroke-width="2.6"/><circle cx="878.6" cy="576.2" r="5.30" fill="none" stroke="#fff" stroke-opacity="0.6" stroke-width="1.0"/>
<circle cx="798.9" cy="599.7" r="7.1" fill="#bc7eb8" fill-opacity="0.5" stroke="#56004c" stroke-width="2.6"/><circle cx="798.9" cy="599.7" r="5.30" fill="none" stroke="#fff" stroke-opacity="0.6" stroke-width="1.0"/>
<circle cx="804.0" cy="590.2" r="7.1" fill="#bc7eb8" fill-opacity="0.5" stroke="#56004c" stroke-width="2.6"/><circle cx="804.0" cy="590.2" r="5.30" fill="none" stroke="#fff" stroke-opacity="0.6" stroke-width="1.0"/>
<circle cx="826.0" cy="595.0" r="7.1" fill="#bc7eb8" fill-opacity="0.5" stroke="#56004c" stroke-width="2.6"/><circle cx="826.0" cy="595.0" r="5.30" fill="none" stroke="#fff" stroke-opacity="0.6" stroke-width="1.0"/>
<circle cx="815.4" cy="606.0" r="7.1" fill="#bc7eb8" fill-opacity="0.5" stroke="#56004c" stroke-width="2.6"/><circle cx="815.4" cy="606.0" r="5.30" fill="none" stroke="#fff" stroke-opacity="0.6" stroke-width="1.0"/>
<circle cx="845.0" cy="592.0" r="7.1" fill="#bc7eb8" fill-opacity="0.5" stroke="#56004c" stroke-width="2.6"/><circle cx="845.0" cy="592.0" r="5.30" fill="none" stroke="#fff" stroke-opacity="0.6" stroke-width="1.0"/>
<circle cx="809.7" cy="597.1" r="7.1" fill="#bc7eb8" fill-opacity="0.5" stroke="#56004c" stroke-width="2.6"/><circle cx="809.7" cy="597.1" r="5.30" fill="none" stroke="#fff" stroke-opacity="0.6" stroke-width="1.0"/>
<circle cx="862.0" cy="590.5" r="7.1" fill="#bc7eb8" fill-opacity="0.5" stroke="#56004c" stroke-width="2.6"/><circle cx="862.0" cy="590.5" r="5.30" fill="none" stroke="#fff" stroke-opacity="0.6" stroke-width="1.0"/>
<circle cx="821.0" cy="590.8" r="7.1" fill="#bc7eb8" fill-opacity="0.5" stroke="#56004c" stroke-width="2.6"/><circle cx="821.0" cy="590.8" r="5.30" fill="none" stroke="#fff" stroke-opacity="0.6" stroke-width="1.0"/>
<circle cx="838.0" cy="584.0" r="7.1" fill="#bc7eb8" fill-opacity="0.5" stroke="#56004c" stroke-width="2.6"/><circle cx="838.0" cy="584.0" r="5.30" fill="none" stroke="#fff" stroke-opacity="0.6" stroke-width="1.0"/>
<circle cx="824.8" cy="601.6" r="7.1" fill="#bc7eb8" fill-opacity="0.5" stroke="#56004c" stroke-width="2.6"/><circle cx="824.8" cy="601.6" r="5.30" fill="none" stroke="#fff" stroke-opacity="0.6" stroke-width="1.0"/>
<circle cx="870.0" cy="601.0" r="7.1" fill="#bc7eb8" fill-opacity="0.5" stroke="#56004c" stroke-width="2.6"/><circle cx="870.0" cy="601.0" r="5.30" fill="none" stroke="#fff" stroke-opacity="0.6" stroke-width="1.0"/>
<circle cx="829.2" cy="587.7" r="7.1" fill="#bc7eb8" fill-opacity="0.5" stroke="#56004c" stroke-width="2.6"/><circle cx="829.2" cy="587.7" r="5.30" fill="none" stroke="#fff" stroke-opacity="0.6" stroke-width="1.0"/>
<circle cx="813.0" cy="588.0" r="7.1" fill="#bc7eb8" fill-opacity="0.5" stroke="#56004c" stroke-width="2.6"/><circle cx="813.0" cy="588.0" r="5.30" fill="none" stroke="#fff" stroke-opacity="0.6" stroke-width="1.0"/>
<circle cx="834.3" cy="605.4" r="7.1" fill="#bc7eb8" fill-opacity="0.5" stroke="#56004c" stroke-width="2.6"/><circle cx="834.3" cy="605.4" r="5.30" fill="none" stroke="#fff" stroke-opacity="0.6" stroke-width="1.0"/>
<circle cx="834.9" cy="578.3" r="7.1" fill="#bc7eb8" fill-opacity="0.5" stroke="#56004c" stroke-width="2.6"/><circle cx="834.9" cy="578.3" r="5.30" fill="none" stroke="#fff" stroke-opacity="0.6" stroke-width="1.0"/>
<circle cx="840.6" cy="599.7" r="7.1" fill="#bc7eb8" fill-opacity="0.5" stroke="#56004c" stroke-width="2.6"/><circle cx="840.6" cy="599.7" r="5.30" fill="none" stroke="#fff" stroke-opacity="0.6" stroke-width="1.0"/>
<circle cx="847.5" cy="600.3" r="7.1" fill="#bc7eb8" fill-opacity="0.5" stroke="#56004c" stroke-width="2.6"/><circle cx="847.5" cy="600.3" r="5.30" fill="none" stroke="#fff" stroke-opacity="0.6" stroke-width="1.0"/>
<circle cx="851.3" cy="587.0" r="7.1" fill="#bc7eb8" fill-opacity="0.5" stroke="#56004c" stroke-width="2.6"/><circle cx="851.3" cy="587.0" r="5.30" fill="none" stroke="#fff" stroke-opacity="0.6" stroke-width="1.0"/>
<circle cx="857.7" cy="595.3" r="7.1" fill="#bc7eb8" fill-opacity="0.5" stroke="#56004c" stroke-width="2.6"/><circle cx="857.7" cy="595.3" r="5.30" fill="none" stroke="#fff" stroke-opacity="0.6" stroke-width="1.0"/>
<circle cx="866.5" cy="604.1" r="7.1" fill="#bc7eb8" fill-opacity="0.5" stroke="#56004c" stroke-width="2.6"/><circle cx="866.5" cy="604.1" r="5.30" fill="none" stroke="#fff" stroke-opacity="0.6" stroke-width="1.0"/>
<circle cx="874.7" cy="589.6" r="7.1" fill="#bc7eb8" fill-opacity="0.5" stroke="#56004c" stroke-width="2.6"/><circle cx="874.7" cy="589.6" r="5.30" fill="none" stroke="#fff" stroke-opacity="0.6" stroke-width="1.0"/>
<circle cx="881.0" cy="599.0" r="7.1" fill="#bc7eb8" fill-opacity="0.5" stroke="#56004c" stroke-width="2.6"/><circle cx="881.0" cy="599.0" r="5.30" fill="none" stroke="#fff" stroke-opacity="0.6" stroke-width="1.0"/>
<circle cx="886.1" cy="595.3" r="7.1" fill="#bc7eb8" fill-opacity="0.5" stroke="#56004c" stroke-width="2.6"/><circle cx="886.1" cy="595.3" r="5.30" fill="none" stroke="#fff" stroke-opacity="0.6" stroke-width="1.0"/>
<circle cx="854.5" cy="574.5" r="7.1" fill="#bc7eb8" fill-opacity="0.5" stroke="#56004c" stroke-width="2.6"/><circle cx="854.5" cy="574.5" r="5.30" fill="none" stroke="#fff" stroke-opacity="0.6" stroke-width="1.0"/>
<line x1="793.0" y1="581.2" x2="890.4000000000001" y2="581.2" stroke="#640058" stroke-width="4.3"/>
<line x1="817.7" y1="594.6" x2="865.7" y2="594.6" stroke="#640058" stroke-width="4.3"/>
<line x1="817.7" y1="560.4" x2="865.7" y2="560.4" stroke="#640058" stroke-width="4.3"/>
<line x1="841.7" y1="594.6" x2="841.7" y2="560.4" stroke="#640058" stroke-width="4.3"/>
<circle cx="1292.9" cy="554.6" r="7.1" fill="#c0ecdc" fill-opacity="0.5" stroke="#045e39" stroke-width="2.6"/><circle cx="1292.9" cy="554.6" r="5.30" fill="none" stroke="#fff" stroke-opacity="0.6" stroke-width="1.0"/>
<circle cx="1303.5" cy="563.2" r="7.1" fill="#c0ecdc" fill-opacity="0.5" stroke="#045e39" stroke-width="2.6"/><circle cx="1303.5" cy="563.2" r="5.30" fill="none" stroke="#fff" stroke-opacity="0.6" stroke-width="1.0"/>
<circle cx="1282.8" cy="573.8" r="7.1" fill="#c0ecdc" fill-opacity="0.5" stroke="#045e39" stroke-width="2.6"/><circle cx="1282.8" cy="573.8" r="5.30" fill="none" stroke="#fff" stroke-opacity="0.6" stroke-width="1.0"/>
<circle cx="1303.5" cy="582.4" r="7.1" fill="#c0ecdc" fill-opacity="0.5" stroke="#045e39" stroke-width="2.6"/><circle cx="1303.5" cy="582.4" r="5.30" fill="none" stroke="#fff" stroke-opacity="0.6" stroke-width="1.0"/>
<circle cx="1313.6" cy="579.4" r="7.1" fill="#c0ecdc" fill-opacity="0.5" stroke="#045e39" stroke-width="2.6"/><circle cx="1313.6" cy="579.4" r="5.30" fill="none" stroke="#fff" stroke-opacity="0.6" stroke-width="1.0"/>
<circle cx="1324.7" cy="583.4" r="7.1" fill="#c0ecdc" fill-opacity="0.5" stroke="#045e39" stroke-width="2.6"/><circle cx="1324.7" cy="583.4" r="5.30" fill="none" stroke="#fff" stroke-opacity="0.6" stroke-width="1.0"/>
<circle cx="1272.2" cy="587.5" r="7.1" fill="#c0ecdc" fill-opacity="0.5" stroke="#045e39" stroke-width="2.6"/><circle cx="1272.2" cy="587.5" r="5.30" fill="none" stroke="#fff" stroke-opacity="0.6" stroke-width="1.0"/>
<circle cx="1292.4" cy="584.4" r="7.1" fill="#c0ecdc" fill-opacity="0.5" stroke="#045e39" stroke-width="2.6"/><circle cx="1292.4" cy="584.4" r="5.30" fill="none" stroke="#fff" stroke-opacity="0.6" stroke-width="1.0"/>
<circle cx="1303.5" cy="596.6" r="7.1" fill="#c0ecdc" fill-opacity="0.5" stroke="#045e39" stroke-width="2.6"/><circle cx="1303.5" cy="596.6" r="5.30" fill="none" stroke="#fff" stroke-opacity="0.6" stroke-width="1.0"/>
<circle cx="1292.4" cy="602.6" r="7.1" fill="#c0ecdc" fill-opacity="0.5" stroke="#045e39" stroke-width="2.6"/><circle cx="1292.4" cy="602.6" r="5.30" fill="none" stroke="#fff" stroke-opacity="0.6" stroke-width="1.0"/>
<circle cx="1272.2" cy="605.2" r="7.1" fill="#c0ecdc" fill-opacity="0.5" stroke="#045e39" stroke-width="2.6"/><circle cx="1272.2" cy="605.2" r="5.30" fill="none" stroke="#fff" stroke-opacity="0.6" stroke-width="1.0"/>
<circle cx="1313.6" cy="607.2" r="7.1" fill="#c0ecdc" fill-opacity="0.5" stroke="#045e39" stroke-width="2.6"/><circle cx="1313.6" cy="607.2" r="5.30" fill="none" stroke="#fff" stroke-opacity="0.6" stroke-width="1.0"/>
<circle cx="1325.3" cy="599.6" r="7.1" fill="#c0ecdc" fill-opacity="0.5" stroke="#045e39" stroke-width="2.6"/><circle cx="1325.3" cy="599.6" r="5.30" fill="none" stroke="#fff" stroke-opacity="0.6" stroke-width="1.0"/>
<circle cx="1283.0" cy="595.0" r="7.1" fill="#c0ecdc" fill-opacity="0.5" stroke="#045e39" stroke-width="2.6"/><circle cx="1283.0" cy="595.0" r="5.30" fill="none" stroke="#fff" stroke-opacity="0.6" stroke-width="1.0"/>
<line x1="1264.8000000000002" y1="587.5" x2="1331.0" y2="587.5" stroke="#066b45" stroke-width="4.3"/>
<line x1="1281.9" y1="599.6" x2="1313.9" y2="599.6" stroke="#066b45" stroke-width="4.3"/>
<line x1="1281.9" y1="578.9" x2="1313.9" y2="578.9" stroke="#066b45" stroke-width="4.3"/>
<line x1="1297.9" y1="599.6" x2="1297.9" y2="578.9" stroke="#066b45" stroke-width="4.3"/>
<circle cx="1398.1" cy="513.6" r="7.1" fill="#c0ecdc" fill-opacity="0.5" stroke="#045e39" stroke-width="2.6"/><circle cx="1398.1" cy="513.6" r="5.30" fill="none" stroke="#fff" stroke-opacity="0.6" stroke-width="1.0"/>
<circle cx="1398.1" cy="537.9" r="7.1" fill="#c0ecdc" fill-opacity="0.5" stroke="#045e39" stroke-width="2.6"/><circle cx="1398.1" cy="537.9" r="5.30" fill="none" stroke="#fff" stroke-opacity="0.6" stroke-width="1.0"/>
<circle cx="1392.1" cy="570.6" r="7.1" fill="#c0ecdc" fill-opacity="0.5" stroke="#045e39" stroke-width="2.6"/><circle cx="1392.1" cy="570.6" r="5.30" fill="none" stroke="#fff" stroke-opacity="0.6" stroke-width="1.0"/>
<circle cx="1384.9" cy="574.4" r="7.1" fill="#c0ecdc" fill-opacity="0.5" stroke="#045e39" stroke-width="2.6"/><circle cx="1384.9" cy="574.4" r="5.30" fill="none" stroke="#fff" stroke-opacity="0.6" stroke-width="1.0"/>
<circle cx="1423.9" cy="577.0" r="7.1" fill="#c0ecdc" fill-opacity="0.5" stroke="#045e39" stroke-width="2.6"/><circle cx="1423.9" cy="577.0" r="5.30" fill="none" stroke="#fff" stroke-opacity="0.6" stroke-width="1.0"/>
<circle cx="1417.1" cy="579.7" r="7.1" fill="#c0ecdc" fill-opacity="0.5" stroke="#045e39" stroke-width="2.6"/><circle cx="1417.1" cy="579.7" r="5.30" fill="none" stroke="#fff" stroke-opacity="0.6" stroke-width="1.0"/>
<circle cx="1377.7" cy="585.8" r="7.1" fill="#c0ecdc" fill-opacity="0.5" stroke="#045e39" stroke-width="2.6"/><circle cx="1377.7" cy="585.8" r="5.30" fill="none" stroke="#fff" stroke-opacity="0.6" stroke-width="1.0"/>
<circle cx="1388.3" cy="585.0" r="7.1" fill="#c0ecdc" fill-opacity="0.5" stroke="#045e39" stroke-width="2.6"/><circle cx="1388.3" cy="585.0" r="5.30" fill="none" stroke="#fff" stroke-opacity="0.6" stroke-width="1.0"/>
<circle cx="1404.2" cy="588.8" r="7.1" fill="#c0ecdc" fill-opacity="0.5" stroke="#045e39" stroke-width="2.6"/><circle cx="1404.2" cy="588.8" r="5.30" fill="none" stroke="#fff" stroke-opacity="0.6" stroke-width="1.0"/>
<circle cx="1372.0" cy="597.9" r="7.1" fill="#c0ecdc" fill-opacity="0.5" stroke="#045e39" stroke-width="2.6"/><circle cx="1372.0" cy="597.9" r="5.30" fill="none" stroke="#fff" stroke-opacity="0.6" stroke-width="1.0"/>
<circle cx="1384.9" cy="594.1" r="7.1" fill="#c0ecdc" fill-opacity="0.5" stroke="#045e39" stroke-width="2.6"/><circle cx="1384.9" cy="594.1" r="5.30" fill="none" stroke="#fff" stroke-opacity="0.6" stroke-width="1.0"/>
<circle cx="1397.8" cy="602.4" r="7.1" fill="#c0ecdc" fill-opacity="0.5" stroke="#045e39" stroke-width="2.6"/><circle cx="1397.8" cy="602.4" r="5.30" fill="none" stroke="#fff" stroke-opacity="0.6" stroke-width="1.0"/>
<circle cx="1411.1" cy="599.4" r="7.1" fill="#c0ecdc" fill-opacity="0.5" stroke="#045e39" stroke-width="2.6"/><circle cx="1411.1" cy="599.4" r="5.30" fill="none" stroke="#fff" stroke-opacity="0.6" stroke-width="1.0"/>
<circle cx="1424.3" cy="599.4" r="7.1" fill="#c0ecdc" fill-opacity="0.5" stroke="#045e39" stroke-width="2.6"/><circle cx="1424.3" cy="599.4" r="5.30" fill="none" stroke="#fff" stroke-opacity="0.6" stroke-width="1.0"/>
<line x1="1364.8" y1="588.6" x2="1430.3999999999999" y2="588.6" stroke="#066b45" stroke-width="4.3"/>
<line x1="1381.8999999999999" y1="597.1" x2="1413.3" y2="597.1" stroke="#066b45" stroke-width="4.3"/>
<line x1="1381.8999999999999" y1="575.9" x2="1413.3" y2="575.9" stroke="#066b45" stroke-width="4.3"/>
<line x1="1397.6" y1="597.1" x2="1397.6" y2="575.9" stroke="#066b45" stroke-width="4.3"/>
<circle cx="1498.0" cy="406.0" r="7.1" fill="#c0ecdc" fill-opacity="0.5" stroke="#045e39" stroke-width="2.6"/><circle cx="1498.0" cy="406.0" r="5.30" fill="none" stroke="#fff" stroke-opacity="0.6" stroke-width="1.0"/>
<circle cx="1498.0" cy="430.1" r="7.1" fill="#c0ecdc" fill-opacity="0.5" stroke="#045e39" stroke-width="2.6"/><circle cx="1498.0" cy="430.1" r="5.30" fill="none" stroke="#fff" stroke-opacity="0.6" stroke-width="1.0"/>
<circle cx="1498.0" cy="527.2" r="7.1" fill="#c0ecdc" fill-opacity="0.5" stroke="#045e39" stroke-width="2.6"/><circle cx="1498.0" cy="527.2" r="5.30" fill="none" stroke="#fff" stroke-opacity="0.6" stroke-width="1.0"/>
<circle cx="1508.7" cy="564.0" r="7.1" fill="#c0ecdc" fill-opacity="0.5" stroke="#045e39" stroke-width="2.6"/><circle cx="1508.7" cy="564.0" r="5.30" fill="none" stroke="#fff" stroke-opacity="0.6" stroke-width="1.0"/>
<circle cx="1486.6" cy="575.9" r="7.1" fill="#c0ecdc" fill-opacity="0.5" stroke="#045e39" stroke-width="2.6"/><circle cx="1486.6" cy="575.9" r="5.30" fill="none" stroke="#fff" stroke-opacity="0.6" stroke-width="1.0"/>
<circle cx="1495.2" cy="576.3" r="7.1" fill="#c0ecdc" fill-opacity="0.5" stroke="#045e39" stroke-width="2.6"/><circle cx="1495.2" cy="576.3" r="5.30" fill="none" stroke="#fff" stroke-opacity="0.6" stroke-width="1.0"/>
<circle cx="1471.4" cy="584.1" r="7.1" fill="#c0ecdc" fill-opacity="0.5" stroke="#045e39" stroke-width="2.6"/><circle cx="1471.4" cy="584.1" r="5.30" fill="none" stroke="#fff" stroke-opacity="0.6" stroke-width="1.0"/>
<circle cx="1479.2" cy="591.5" r="7.1" fill="#c0ecdc" fill-opacity="0.5" stroke="#045e39" stroke-width="2.6"/><circle cx="1479.2" cy="591.5" r="5.30" fill="none" stroke="#fff" stroke-opacity="0.6" stroke-width="1.0"/>
<circle cx="1471.4" cy="601.3" r="7.1" fill="#c0ecdc" fill-opacity="0.5" stroke="#045e39" stroke-width="2.6"/><circle cx="1471.4" cy="601.3" r="5.30" fill="none" stroke="#fff" stroke-opacity="0.6" stroke-width="1.0"/>
<circle cx="1487.0" cy="600.5" r="7.1" fill="#c0ecdc" fill-opacity="0.5" stroke="#045e39" stroke-width="2.6"/><circle cx="1487.0" cy="600.5" r="5.30" fill="none" stroke="#fff" stroke-opacity="0.6" stroke-width="1.0"/>
<circle cx="1494.4" cy="596.0" r="7.1" fill="#c0ecdc" fill-opacity="0.5" stroke="#045e39" stroke-width="2.6"/><circle cx="1494.4" cy="596.0" r="5.30" fill="none" stroke="#fff" stroke-opacity="0.6" stroke-width="1.0"/>
<circle cx="1501.3" cy="606.3" r="7.1" fill="#c0ecdc" fill-opacity="0.5" stroke="#045e39" stroke-width="2.6"/><circle cx="1501.3" cy="606.3" r="5.30" fill="none" stroke="#fff" stroke-opacity="0.6" stroke-width="1.0"/>
<circle cx="1508.3" cy="596.8" r="7.1" fill="#c0ecdc" fill-opacity="0.5" stroke="#045e39" stroke-width="2.6"/><circle cx="1508.3" cy="596.8" r="5.30" fill="none" stroke="#fff" stroke-opacity="0.6" stroke-width="1.0"/>
<circle cx="1517.0" cy="605.0" r="7.1" fill="#c0ecdc" fill-opacity="0.5" stroke="#045e39" stroke-width="2.6"/><circle cx="1517.0" cy="605.0" r="5.30" fill="none" stroke="#fff" stroke-opacity="0.6" stroke-width="1.0"/>
<circle cx="1525.5" cy="599.7" r="7.1" fill="#c0ecdc" fill-opacity="0.5" stroke="#045e39" stroke-width="2.6"/><circle cx="1525.5" cy="599.7" r="5.30" fill="none" stroke="#fff" stroke-opacity="0.6" stroke-width="1.0"/>
<line x1="1465.6999999999998" y1="592.9" x2="1530.5" y2="592.9" stroke="#066b45" stroke-width="4.3"/>
<line x1="1482.3" y1="597.7" x2="1513.8999999999999" y2="597.7" stroke="#066b45" stroke-width="4.3"/>
<line x1="1482.3" y1="564" x2="1513.8999999999999" y2="564" stroke="#066b45" stroke-width="4.3"/>
<line x1="1498.1" y1="597.7" x2="1498.1" y2="564" stroke="#066b45" stroke-width="4.3"/>
<circle cx="1593.8" cy="530.9" r="7.1" fill="#bc7eb8" fill-opacity="0.5" stroke="#56004c" stroke-width="2.6"/><circle cx="1593.8" cy="530.9" r="5.30" fill="none" stroke="#fff" stroke-opacity="0.6" stroke-width="1.0"/>
<circle cx="1603.0" cy="532.2" r="7.1" fill="#bc7eb8" fill-opacity="0.5" stroke="#56004c" stroke-width="2.6"/><circle cx="1603.0" cy="532.2" r="5.30" fill="none" stroke="#fff" stroke-opacity="0.6" stroke-width="1.0"/>
<circle cx="1593.8" cy="554.1" r="7.1" fill="#bc7eb8" fill-opacity="0.5" stroke="#56004c" stroke-width="2.6"/><circle cx="1593.8" cy="554.1" r="5.30" fill="none" stroke="#fff" stroke-opacity="0.6" stroke-width="1.0"/>
<circle cx="1602.0" cy="564.5" r="7.1" fill="#bc7eb8" fill-opacity="0.5" stroke="#56004c" stroke-width="2.6"/><circle cx="1602.0" cy="564.5" r="5.30" fill="none" stroke="#fff" stroke-opacity="0.6" stroke-width="1.0"/>
<circle cx="1579.2" cy="580.5" r="7.1" fill="#bc7eb8" fill-opacity="0.5" stroke="#56004c" stroke-width="2.6"/><circle cx="1579.2" cy="580.5" r="5.30" fill="none" stroke="#fff" stroke-opacity="0.6" stroke-width="1.0"/>
<circle cx="1592.9" cy="578.9" r="7.1" fill="#bc7eb8" fill-opacity="0.5" stroke="#56004c" stroke-width="2.6"/><circle cx="1592.9" cy="578.9" r="5.30" fill="none" stroke="#fff" stroke-opacity="0.6" stroke-width="1.0"/>
<circle cx="1616.4" cy="578.9" r="7.1" fill="#bc7eb8" fill-opacity="0.5" stroke="#56004c" stroke-width="2.6"/><circle cx="1616.4" cy="578.9" r="5.30" fill="none" stroke="#fff" stroke-opacity="0.6" stroke-width="1.0"/>
<circle cx="1626.2" cy="585.0" r="7.1" fill="#bc7eb8" fill-opacity="0.5" stroke="#56004c" stroke-width="2.6"/><circle cx="1626.2" cy="585.0" r="5.30" fill="none" stroke="#fff" stroke-opacity="0.6" stroke-width="1.0"/>
<circle cx="1570.2" cy="591.8" r="7.1" fill="#bc7eb8" fill-opacity="0.5" stroke="#56004c" stroke-width="2.6"/><circle cx="1570.2" cy="591.8" r="5.30" fill="none" stroke="#fff" stroke-opacity="0.6" stroke-width="1.0"/>
<circle cx="1579.2" cy="600.2" r="7.1" fill="#bc7eb8" fill-opacity="0.5" stroke="#56004c" stroke-width="2.6"/><circle cx="1579.2" cy="600.2" r="5.30" fill="none" stroke="#fff" stroke-opacity="0.6" stroke-width="1.0"/>
<circle cx="1586.8" cy="593.3" r="7.1" fill="#bc7eb8" fill-opacity="0.5" stroke="#56004c" stroke-width="2.6"/><circle cx="1586.8" cy="593.3" r="5.30" fill="none" stroke="#fff" stroke-opacity="0.6" stroke-width="1.0"/>
<circle cx="1593.6" cy="600.2" r="7.1" fill="#bc7eb8" fill-opacity="0.5" stroke="#56004c" stroke-width="2.6"/><circle cx="1593.6" cy="600.2" r="5.30" fill="none" stroke="#fff" stroke-opacity="0.6" stroke-width="1.0"/>
<circle cx="1608.0" cy="593.3" r="7.1" fill="#bc7eb8" fill-opacity="0.5" stroke="#56004c" stroke-width="2.6"/><circle cx="1608.0" cy="593.3" r="5.30" fill="none" stroke="#fff" stroke-opacity="0.6" stroke-width="1.0"/>
<circle cx="1618.6" cy="597.1" r="7.1" fill="#bc7eb8" fill-opacity="0.5" stroke="#56004c" stroke-width="2.6"/><circle cx="1618.6" cy="597.1" r="5.30" fill="none" stroke="#fff" stroke-opacity="0.6" stroke-width="1.0"/>
<circle cx="1608.8" cy="607.0" r="7.1" fill="#bc7eb8" fill-opacity="0.5" stroke="#56004c" stroke-width="2.6"/><circle cx="1608.8" cy="607.0" r="5.30" fill="none" stroke="#fff" stroke-opacity="0.6" stroke-width="1.0"/>
<line x1="1564.6" y1="587.7" x2="1630.6" y2="587.7" stroke="#640058" stroke-width="4.3"/>
<line x1="1581.5" y1="592.6" x2="1613.6999999999998" y2="592.6" stroke="#640058" stroke-width="4.3"/>
<line x1="1581.5" y1="569.5" x2="1613.6999999999998" y2="569.5" stroke="#640058" stroke-width="4.3"/>
<line x1="1597.6" y1="592.6" x2="1597.6" y2="569.5" stroke="#640058" stroke-width="4.3"/>
<circle cx="1697.7" cy="427.2" r="7.1" fill="#bc7eb8" fill-opacity="0.5" stroke="#56004c" stroke-width="2.6"/><circle cx="1697.7" cy="427.2" r="5.30" fill="none" stroke="#fff" stroke-opacity="0.6" stroke-width="1.0"/>
<circle cx="1697.7" cy="533.3" r="7.1" fill="#bc7eb8" fill-opacity="0.5" stroke="#56004c" stroke-width="2.6"/><circle cx="1697.7" cy="533.3" r="5.30" fill="none" stroke="#fff" stroke-opacity="0.6" stroke-width="1.0"/>
<circle cx="1672.0" cy="556.2" r="7.1" fill="#bc7eb8" fill-opacity="0.5" stroke="#56004c" stroke-width="2.6"/><circle cx="1672.0" cy="556.2" r="5.30" fill="none" stroke="#fff" stroke-opacity="0.6" stroke-width="1.0"/>
<circle cx="1724.2" cy="552.6" r="7.1" fill="#bc7eb8" fill-opacity="0.5" stroke="#56004c" stroke-width="2.6"/><circle cx="1724.2" cy="552.6" r="5.30" fill="none" stroke="#fff" stroke-opacity="0.6" stroke-width="1.0"/>
<circle cx="1688.8" cy="565.0" r="7.1" fill="#bc7eb8" fill-opacity="0.5" stroke="#56004c" stroke-width="2.6"/><circle cx="1688.8" cy="565.0" r="5.30" fill="none" stroke="#fff" stroke-opacity="0.6" stroke-width="1.0"/>
<circle cx="1706.0" cy="560.2" r="7.1" fill="#bc7eb8" fill-opacity="0.5" stroke="#56004c" stroke-width="2.6"/><circle cx="1706.0" cy="560.2" r="5.30" fill="none" stroke="#fff" stroke-opacity="0.6" stroke-width="1.0"/>
<circle cx="1672.0" cy="573.3" r="7.1" fill="#bc7eb8" fill-opacity="0.5" stroke="#56004c" stroke-width="2.6"/><circle cx="1672.0" cy="573.3" r="5.30" fill="none" stroke="#fff" stroke-opacity="0.6" stroke-width="1.0"/>
<circle cx="1724.2" cy="571.8" r="7.1" fill="#bc7eb8" fill-opacity="0.5" stroke="#56004c" stroke-width="2.6"/><circle cx="1724.2" cy="571.8" r="5.30" fill="none" stroke="#fff" stroke-opacity="0.6" stroke-width="1.0"/>
<circle cx="1672.0" cy="590.0" r="7.1" fill="#bc7eb8" fill-opacity="0.5" stroke="#56004c" stroke-width="2.6"/><circle cx="1672.0" cy="590.0" r="5.30" fill="none" stroke="#fff" stroke-opacity="0.6" stroke-width="1.0"/>
<circle cx="1688.8" cy="595.0" r="7.1" fill="#bc7eb8" fill-opacity="0.5" stroke="#56004c" stroke-width="2.6"/><circle cx="1688.8" cy="595.0" r="5.30" fill="none" stroke="#fff" stroke-opacity="0.6" stroke-width="1.0"/>
<circle cx="1706.0" cy="596.5" r="7.1" fill="#bc7eb8" fill-opacity="0.5" stroke="#56004c" stroke-width="2.6"/><circle cx="1706.0" cy="596.5" r="5.30" fill="none" stroke="#fff" stroke-opacity="0.6" stroke-width="1.0"/>
<circle cx="1724.2" cy="595.5" r="7.1" fill="#bc7eb8" fill-opacity="0.5" stroke="#56004c" stroke-width="2.6"/><circle cx="1724.2" cy="595.5" r="5.30" fill="none" stroke="#fff" stroke-opacity="0.6" stroke-width="1.0"/>
<circle cx="1672.0" cy="607.1" r="7.1" fill="#bc7eb8" fill-opacity="0.5" stroke="#56004c" stroke-width="2.6"/><circle cx="1672.0" cy="607.1" r="5.30" fill="none" stroke="#fff" stroke-opacity="0.6" stroke-width="1.0"/>
<line x1="1664.2" y1="571.8" x2="1730.8" y2="571.8" stroke="#640058" stroke-width="4.3"/>
<line x1="1681.9" y1="595" x2="1713.1" y2="595" stroke="#640058" stroke-width="4.3"/>
<line x1="1681.9" y1="554.9" x2="1713.1" y2="554.9" stroke="#640058" stroke-width="4.3"/>
<line x1="1697.5" y1="595" x2="1697.5" y2="554.9" stroke="#640058" stroke-width="4.3"/>
<circle cx="1797.2" cy="453.3" r="7.1" fill="#bc7eb8" fill-opacity="0.5" stroke="#56004c" stroke-width="2.6"/><circle cx="1797.2" cy="453.3" r="5.30" fill="none" stroke="#fff" stroke-opacity="0.6" stroke-width="1.0"/>
<circle cx="1797.2" cy="503.1" r="7.1" fill="#bc7eb8" fill-opacity="0.5" stroke="#56004c" stroke-width="2.6"/><circle cx="1797.2" cy="503.1" r="5.30" fill="none" stroke="#fff" stroke-opacity="0.6" stroke-width="1.0"/>
<circle cx="1823.8" cy="533.3" r="7.1" fill="#bc7eb8" fill-opacity="0.5" stroke="#56004c" stroke-width="2.6"/><circle cx="1823.8" cy="533.3" r="5.30" fill="none" stroke="#fff" stroke-opacity="0.6" stroke-width="1.0"/>
<circle cx="1788.8" cy="542.1" r="7.1" fill="#bc7eb8" fill-opacity="0.5" stroke="#56004c" stroke-width="2.6"/><circle cx="1788.8" cy="542.1" r="5.30" fill="none" stroke="#fff" stroke-opacity="0.6" stroke-width="1.0"/>
<circle cx="1806.1" cy="540.2" r="7.1" fill="#bc7eb8" fill-opacity="0.5" stroke="#56004c" stroke-width="2.6"/><circle cx="1806.1" cy="540.2" r="5.30" fill="none" stroke="#fff" stroke-opacity="0.6" stroke-width="1.0"/>
<circle cx="1771.8" cy="574.3" r="7.1" fill="#bc7eb8" fill-opacity="0.5" stroke="#56004c" stroke-width="2.6"/><circle cx="1771.8" cy="574.3" r="5.30" fill="none" stroke="#fff" stroke-opacity="0.6" stroke-width="1.0"/>
<circle cx="1823.8" cy="575.6" r="7.1" fill="#bc7eb8" fill-opacity="0.5" stroke="#56004c" stroke-width="2.6"/><circle cx="1823.8" cy="575.6" r="5.30" fill="none" stroke="#fff" stroke-opacity="0.6" stroke-width="1.0"/>
<circle cx="1771.8" cy="590.1" r="7.1" fill="#bc7eb8" fill-opacity="0.5" stroke="#56004c" stroke-width="2.6"/><circle cx="1771.8" cy="590.1" r="5.30" fill="none" stroke="#fff" stroke-opacity="0.6" stroke-width="1.0"/>
<circle cx="1788.8" cy="586.3" r="7.1" fill="#bc7eb8" fill-opacity="0.5" stroke="#56004c" stroke-width="2.6"/><circle cx="1788.8" cy="586.3" r="5.30" fill="none" stroke="#fff" stroke-opacity="0.6" stroke-width="1.0"/>
<circle cx="1806.1" cy="593.9" r="7.1" fill="#bc7eb8" fill-opacity="0.5" stroke="#56004c" stroke-width="2.6"/><circle cx="1806.1" cy="593.9" r="5.30" fill="none" stroke="#fff" stroke-opacity="0.6" stroke-width="1.0"/>
<circle cx="1823.8" cy="593.3" r="7.1" fill="#bc7eb8" fill-opacity="0.5" stroke="#56004c" stroke-width="2.6"/><circle cx="1823.8" cy="593.3" r="5.30" fill="none" stroke="#fff" stroke-opacity="0.6" stroke-width="1.0"/>
<circle cx="1771.8" cy="607.1" r="7.1" fill="#bc7eb8" fill-opacity="0.5" stroke="#56004c" stroke-width="2.6"/><circle cx="1771.8" cy="607.1" r="5.30" fill="none" stroke="#fff" stroke-opacity="0.6" stroke-width="1.0"/>
<line x1="1764.1499999999999" y1="575.2" x2="1830.45" y2="575.2" stroke="#640058" stroke-width="4.3"/>
<line x1="1781.2" y1="592.2" x2="1813.3999999999999" y2="592.2" stroke="#640058" stroke-width="4.3"/>
<line x1="1781.2" y1="535.2" x2="1813.3999999999999" y2="535.2" stroke="#640058" stroke-width="4.3"/>
<line x1="1797.3" y1="592.2" x2="1797.3" y2="535.2" stroke="#640058" stroke-width="4.3"/>
<circle cx="1897.4" cy="122.8" r="7.1" fill="#bc7eb8" fill-opacity="0.5" stroke="#56004c" stroke-width="2.6"/><circle cx="1897.4" cy="122.8" r="5.30" fill="none" stroke="#fff" stroke-opacity="0.6" stroke-width="1.0"/>
<circle cx="1897.1" cy="315.0" r="7.1" fill="#bc7eb8" fill-opacity="0.5" stroke="#56004c" stroke-width="2.6"/><circle cx="1897.1" cy="315.0" r="5.30" fill="none" stroke="#fff" stroke-opacity="0.6" stroke-width="1.0"/>
<circle cx="1897.4" cy="492.7" r="7.1" fill="#bc7eb8" fill-opacity="0.5" stroke="#56004c" stroke-width="2.6"/><circle cx="1897.4" cy="492.7" r="5.30" fill="none" stroke="#fff" stroke-opacity="0.6" stroke-width="1.0"/>
<circle cx="1897.4" cy="520.3" r="7.1" fill="#bc7eb8" fill-opacity="0.5" stroke="#56004c" stroke-width="2.6"/><circle cx="1897.4" cy="520.3" r="5.30" fill="none" stroke="#fff" stroke-opacity="0.6" stroke-width="1.0"/>
<circle cx="1888.6" cy="547.7" r="7.1" fill="#bc7eb8" fill-opacity="0.5" stroke="#56004c" stroke-width="2.6"/><circle cx="1888.6" cy="547.7" r="5.30" fill="none" stroke="#fff" stroke-opacity="0.6" stroke-width="1.0"/>
<circle cx="1906.3" cy="545.9" r="7.1" fill="#bc7eb8" fill-opacity="0.5" stroke="#56004c" stroke-width="2.6"/><circle cx="1906.3" cy="545.9" r="5.30" fill="none" stroke="#fff" stroke-opacity="0.6" stroke-width="1.0"/>
<circle cx="1888.6" cy="565.4" r="7.1" fill="#bc7eb8" fill-opacity="0.5" stroke="#56004c" stroke-width="2.6"/><circle cx="1888.6" cy="565.4" r="5.30" fill="none" stroke="#fff" stroke-opacity="0.6" stroke-width="1.0"/>
<circle cx="1906.3" cy="569.3" r="7.1" fill="#bc7eb8" fill-opacity="0.5" stroke="#56004c" stroke-width="2.6"/><circle cx="1906.3" cy="569.3" r="5.30" fill="none" stroke="#fff" stroke-opacity="0.6" stroke-width="1.0"/>
<circle cx="1924.0" cy="566.3" r="7.1" fill="#bc7eb8" fill-opacity="0.5" stroke="#56004c" stroke-width="2.6"/><circle cx="1924.0" cy="566.3" r="5.30" fill="none" stroke="#fff" stroke-opacity="0.6" stroke-width="1.0"/>
<circle cx="1871.8" cy="576.9" r="7.1" fill="#bc7eb8" fill-opacity="0.5" stroke="#56004c" stroke-width="2.6"/><circle cx="1871.8" cy="576.9" r="5.30" fill="none" stroke="#fff" stroke-opacity="0.6" stroke-width="1.0"/>
<circle cx="1924.0" cy="588.2" r="7.1" fill="#bc7eb8" fill-opacity="0.5" stroke="#56004c" stroke-width="2.6"/><circle cx="1924.0" cy="588.2" r="5.30" fill="none" stroke="#fff" stroke-opacity="0.6" stroke-width="1.0"/>
<circle cx="1871.8" cy="598.1" r="7.1" fill="#bc7eb8" fill-opacity="0.5" stroke="#56004c" stroke-width="2.6"/><circle cx="1871.8" cy="598.1" r="5.30" fill="none" stroke="#fff" stroke-opacity="0.6" stroke-width="1.0"/>
<circle cx="1906.3" cy="596.3" r="7.1" fill="#bc7eb8" fill-opacity="0.5" stroke="#56004c" stroke-width="2.6"/><circle cx="1906.3" cy="596.3" r="5.30" fill="none" stroke="#fff" stroke-opacity="0.6" stroke-width="1.0"/>
<line x1="1864.1499999999999" y1="565.8" x2="1930.45" y2="565.8" stroke="#640058" stroke-width="4.3"/>
<line x1="1881.3999999999999" y1="582.5" x2="1913.2" y2="582.5" stroke="#640058" stroke-width="4.3"/>
<line x1="1881.3999999999999" y1="506.9" x2="1913.2" y2="506.9" stroke="#640058" stroke-width="4.3"/>
<line x1="1897.3" y1="582.5" x2="1897.3" y2="506.9" stroke="#640058" stroke-width="4.3"/>
<circle cx="451.4" cy="714.5" r="7.1" fill="#c0ecdc" fill-opacity="0.5" stroke="#045e39" stroke-width="2.6"/><circle cx="451.4" cy="714.5" r="5.30" fill="none" stroke="#fff" stroke-opacity="0.6" stroke-width="1.0"/>
<circle cx="451.4" cy="763.4" r="7.1" fill="#bc7eb8" fill-opacity="0.5" stroke="#56004c" stroke-width="2.6"/><circle cx="451.4" cy="763.4" r="5.30" fill="none" stroke="#fff" stroke-opacity="0.6" stroke-width="1.0"/>
</g>
<g font-family="'Liberation Sans', Arial, Helvetica, sans-serif" fill="#000">
<text x="13" y="41.8" font-size="34" font-weight="bold">A</text>
<text x="1033" y="41.8" font-size="34" font-weight="bold">B</text>
<text x="180.8" y="625.9" font-size="38" font-weight="bold" text-anchor="end">0</text>
<text x="180.8" y="430.19999999999993" font-size="38" font-weight="bold" text-anchor="end">100</text>
<text x="180.8" y="234.49999999999991" font-size="38" font-weight="bold" text-anchor="end">200</text>
<text transform="translate(94.2,367.5) rotate(-90)" font-size="40" font-weight="bold" text-anchor="middle" textLength="387" lengthAdjust="spacing">Syndecan-1 (ng/mL)</text>
<text x="1206.3" y="625.9" font-size="38" font-weight="bold" text-anchor="end">0</text>
<text x="1206.3" y="430.19999999999993" font-size="38" font-weight="bold" text-anchor="end">100</text>
<text x="1206.3" y="234.49999999999991" font-size="38" font-weight="bold" text-anchor="end">200</text>
<text transform="translate(1119.7,367.5) rotate(-90)" font-size="40" font-weight="bold" text-anchor="middle" textLength="387" lengthAdjust="spacing">Syndecan-1 (ng/mL)</text>
<text x="378.3" y="672" font-size="38" font-weight="bold" text-anchor="middle">Day 1</text>
<text x="769" y="672" font-size="38" font-weight="bold" text-anchor="middle">Day 3</text>
<text x="481.5" y="728.9" font-size="37" font-weight="bold">Non-DIC</text>
<text x="481.5" y="780.5" font-size="37" font-weight="bold">DIC</text>
<text x="356.5" y="58.8" font-size="51" font-weight="bold" letter-spacing="3.3">**</text>
<text x="759" y="59.2" font-size="51" font-weight="bold">*</text>
<text x="470" y="136.8" font-size="34" letter-spacing="1.2">575.7</text>
<text x="862.5" y="136.8" font-size="34" letter-spacing="1.2">644.3</text>
<text x="1916.5" y="137.7" font-size="34" letter-spacing="1.2">575.7</text>
<text x="1448" y="780.5" font-size="37" font-weight="bold" textLength="301.4" lengthAdjust="spacing">DIC score (JAAM)</text>
<text transform="translate(1311.4,664.5) rotate(-45)" font-size="38.0" font-weight="bold" text-anchor="end">0-1</text>
<text transform="translate(1411.3,664.5) rotate(-45)" font-size="38.0" font-weight="bold" text-anchor="end">2</text>
<text transform="translate(1511.2,664.5) rotate(-45)" font-size="38.0" font-weight="bold" text-anchor="end">3</text>
<text transform="translate(1611.1,664.5) rotate(-45)" font-size="38.0" font-weight="bold" text-anchor="end">4</text>
<text transform="translate(1711.0,664.5) rotate(-45)" font-size="38.0" font-weight="bold" text-anchor="end">5</text>
<text transform="translate(1810.9,664.5) rotate(-45)" font-size="38.0" font-weight="bold" text-anchor="end">6</text>
<text transform="translate(1910.8,664.5) rotate(-45)" font-size="38.0" font-weight="bold" text-anchor="end">7-8</text>
</g>
</svg></body></html>
